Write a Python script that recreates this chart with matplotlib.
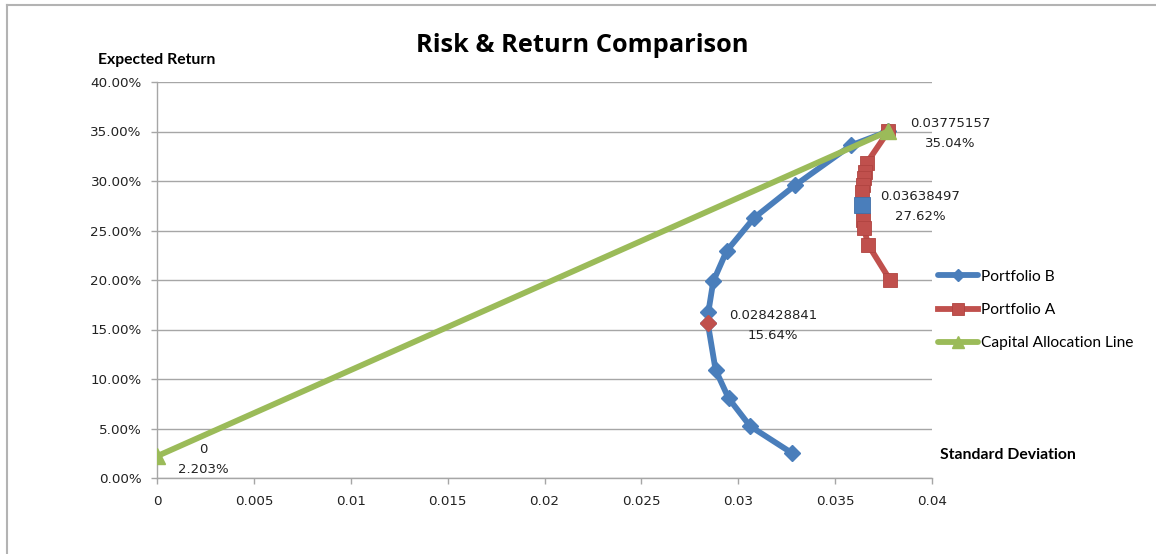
import matplotlib
matplotlib.use("Agg")
import matplotlib.pyplot as plt
from matplotlib.lines import Line2D
from matplotlib.ticker import FuncFormatter, MultipleLocator

# ---- data ----
portB_sd = [0.03775, 0.03582, 0.03293, 0.03081, 0.02940, 0.02871, 0.02846,
            0.028428841, 0.02883, 0.02950, 0.03061, 0.03277]
portB_ret = [35.04, 33.6, 29.56, 26.26, 22.93, 19.86, 16.8,
             15.64, 10.92, 8.06, 5.24, 2.52]
portA_sd = [0.03775157, 0.03662, 0.03654, 0.03649, 0.03642, 0.03637,
            0.03638497, 0.03646, 0.03649, 0.03671, 0.03785]
portA_ret = [35.04, 31.79, 30.94, 30.27, 29.6, 28.92,
             27.62, 26.06, 25.22, 23.54, 19.95]
cal_sd = [0.0, 0.03775157]
cal_ret = [2.203, 35.04]

minvar_sd = [0.028428841]
minvar_ret = [15.64]
optA_sd = [0.03638497]
optA_ret = [27.62]

label_texts = ["0.028428841\n15.64%", "0.03638497\n27.62%",
               "0.03775157\n35.04%", "0\n2.203%"]
label_pts = [(0.028428841, 15.64), (0.03638497, 27.62),
             (0.03775157, 35.04), (0.0, 2.203)]

x_ticks = [0, 0.005, 0.01, 0.015, 0.02, 0.025, 0.03, 0.035, 0.04]

BLUE = "#4A7EBB"
RED = "#C0504D"
GREEN = "#9BBB59"
GRID = "#A6A6A6"

W, H = 1156, 554
fig = plt.figure(figsize=(W / 100, H / 100), dpi=100)
fig.patch.set_facecolor("white")

ax = fig.add_axes([157 / W, 1 - 478 / H, (932 - 157) / W, (478 - 82) / H])

ax.plot(portB_sd, portB_ret, color=BLUE, lw=4.2, marker="D", ms=8,
        mfc=BLUE, mec=BLUE, solid_joinstyle="round", solid_capstyle="round",
        label="Portfolio B", zorder=3)
ax.plot(portA_sd, portA_ret, color=RED, lw=4.2, marker="s", ms=10.5,
        mfc=RED, mec="#B04440", mew=0.6, solid_joinstyle="round",
        label="Portfolio A", zorder=4)
ax.plot(minvar_sd, minvar_ret, ls="none", marker="D", ms=8, color=RED,
        zorder=5)
ax.plot(optA_sd, optA_ret, ls="none", marker="s", ms=11, color=BLUE,
        mec="#3F6FA8", mew=0.6, zorder=5)
ax.plot(cal_sd, cal_ret, color=GREEN, lw=4.2, marker="^", ms=11,
        mfc=GREEN, mec=GREEN, solid_capstyle="round",
        label="Capital Allocation Line", zorder=6)

label_offsets = [(65, 2), (58, 2), (62, 2.5), (46, 3)]
for txt, (px, py), (dx, dy) in zip(label_texts, label_pts, label_offsets):
    ax.annotate(txt, (px, py), xytext=(dx * 0.72, -dy * 0.72),
                textcoords="offset points", ha="center", va="center",
                fontsize=9.5, color="#222222", family="DejaVu Sans",
                linespacing=1.7, zorder=7, annotation_clip=False)

ax.set_xlim(0, 0.04)
ax.set_ylim(0, 40)
ax.set_xticks(x_ticks)
ax.xaxis.set_major_formatter(FuncFormatter(lambda v, p: "%g" % round(v, 4)))
ax.yaxis.set_major_locator(MultipleLocator(5))
ax.yaxis.set_major_formatter(FuncFormatter(lambda v, p: "%.2f%%" % v))

ax.grid(axis="y", color=GRID, lw=1)
ax.set_axisbelow(True)
for s in ["top", "right"]:
    ax.spines[s].set_visible(False)
for s in ["left", "bottom"]:
    ax.spines[s].set_color(GRID)
    ax.spines[s].set_linewidth(1)
ax.tick_params(axis="both", colors=GRID, length=4, width=1, direction="out",
               labelcolor="#222222", labelsize=9.7)
ax.tick_params(axis="x", pad=8)
ax.tick_params(axis="y", pad=7)
for lab in ax.get_xticklabels() + ax.get_yticklabels():
    lab.set_family("DejaVu Sans")

fig.text(582 / W, 1 - 45 / H, "Risk & Return Comparison", ha="center",
         va="center", fontsize=18.3, fontweight="bold", family="Open Sans")
fig.text(98 / W, 1 - 60 / H, "Expected Return", ha="left", va="center",
         fontsize=11.3, fontweight="bold", family="Lato")
fig.text(940 / W, 1 - 455 / H, "Standard Deviation", ha="left",
         va="center", fontsize=11.3, fontweight="bold", family="Lato")

handles, labels = ax.get_legend_handles_labels()
leg = fig.legend(handles, labels, loc="center left",
                 bbox_to_anchor=(938 / W, 1 - 310 / H), frameon=False,
                 prop={"family": "Lato", "size": 11.2}, borderpad=0,
                 borderaxespad=0, labelspacing=1.25, handlelength=2.6,
                 handletextpad=0.15, markerscale=0.8)

# outer chart border (left and top visible in the crop)
fig.add_artist(Line2D([7 / W, 7 / W], [0, 1 - 5 / H], color="#B3B3B3",
                      lw=1.5, transform=fig.transFigure))
fig.add_artist(Line2D([7 / W, 1], [1 - 5 / H, 1 - 5 / H], color="#B3B3B3",
                      lw=1.5, transform=fig.transFigure))

fig.savefig("out.png", dpi=100, facecolor="white")
